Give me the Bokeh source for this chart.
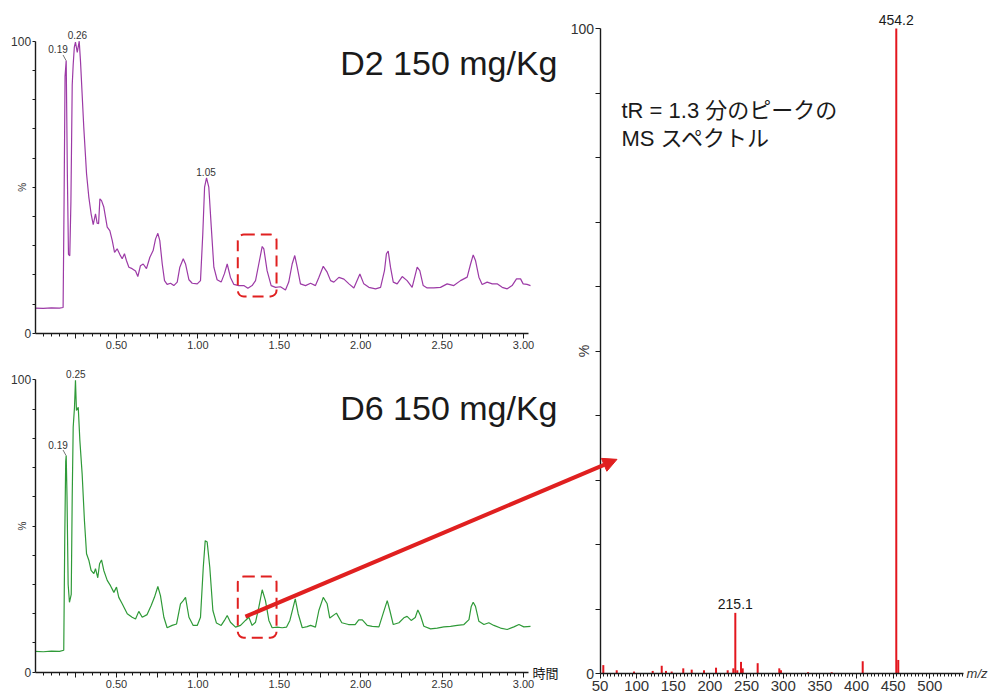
import math
from bokeh.plotting import figure
from bokeh.models import (Range1d, LinearAxis, FixedTicker, PrintfTickFormatter,
                          Label, Arrow, NormalHead, BoxAnnotation)
from bokeh.embed import file_html
from bokeh.resources import INLINE

# ---------------- data ----------------
# chromatogram D2 150 mg/Kg (time in min, relative intensity %)
d2_time = [0.000, 0.050, 0.100, 0.150, 0.172, 0.178, 0.184, 0.191, 0.198, 0.205,
           0.213, 0.220, 0.228, 0.234, 0.241, 0.248, 0.259, 0.271, 0.279, 0.299,
           0.316, 0.330, 0.344, 0.357, 0.371, 0.381, 0.390, 0.398, 0.408, 0.422,
           0.443, 0.459, 0.474, 0.488, 0.504, 0.520, 0.535, 0.549, 0.561, 0.576,
           0.596, 0.617, 0.631, 0.647, 0.664, 0.684, 0.705, 0.725, 0.740, 0.754,
           0.766, 0.781, 0.795, 0.811, 0.832, 0.852, 0.873, 0.889, 0.910, 0.924,
           0.945, 0.965, 0.996, 1.016, 1.030, 1.041, 1.053, 1.067, 1.082, 1.098,
           1.118, 1.143, 1.163, 1.180, 1.200, 1.221, 1.251, 1.282, 1.307, 1.333,
           1.354, 1.374, 1.395, 1.405, 1.425, 1.450, 1.477, 1.507, 1.538, 1.558,
           1.579, 1.595, 1.610, 1.630, 1.661, 1.692, 1.722, 1.743, 1.770, 1.794,
           1.815, 1.835, 1.866, 1.897, 1.928, 1.958, 1.995, 2.019, 2.050, 2.091,
           2.122, 2.146, 2.158, 2.169, 2.183, 2.200, 2.224, 2.255, 2.285, 2.316,
           2.347, 2.363, 2.384, 2.408, 2.449, 2.490, 2.531, 2.572, 2.613, 2.654,
           2.675, 2.691, 2.705, 2.726, 2.746, 2.777, 2.808, 2.838, 2.869, 2.900,
           2.930, 2.957, 2.982, 2.998, 3.022, 3.043]
d2_signal = [8.6, 8.5, 8.7, 8.6, 8.8, 45.0, 88.0, 93.4, 55.0, 27.0,
             26.5, 45.0, 85.0, 92.0, 98.0, 99.7, 96.2, 100.0, 93.0, 70.5,
             54.6, 46.6, 40.9, 37.2, 40.9, 37.7, 37.5, 46.0, 45.4, 43.2,
             36.3, 35.1, 31.7, 27.7, 28.9, 27.0, 25.5, 27.2, 24.9, 22.6,
             22.1, 21.3, 19.4, 23.1, 23.7, 22.1, 26.0, 28.3, 32.3, 34.2,
             31.7, 23.7, 18.0, 16.7, 17.1, 16.3, 17.5, 22.6, 25.5, 23.7,
             18.3, 17.1, 16.9, 18.0, 34.0, 50.0, 53.2, 50.0, 36.5, 22.6,
             18.3, 17.5, 20.4, 23.7, 19.1, 16.7, 16.3, 16.3, 15.4, 16.3,
             18.0, 23.7, 29.7, 28.9, 21.4, 16.3, 15.7, 15.9, 14.8, 17.5,
             23.7, 26.6, 22.6, 16.9, 16.3, 17.1, 16.3, 19.1, 22.9, 20.9,
             18.0, 17.5, 19.1, 18.5, 16.9, 15.5, 20.3, 16.9, 15.7, 15.2,
             15.7, 21.4, 27.2, 28.1, 22.6, 17.5, 16.9, 19.4, 18.0, 15.7,
             22.6, 21.4, 16.3, 15.5, 15.5, 15.7, 16.9, 16.3, 18.0, 19.2,
             23.7, 26.8, 24.9, 19.2, 16.7, 17.5, 16.9, 16.9, 15.7, 15.2,
             16.3, 18.6, 18.6, 16.9, 16.7, 16.3]

# chromatogram D6 150 mg/Kg
d6_time = [0.000, 0.050, 0.100, 0.150, 0.176, 0.182, 0.188, 0.191, 0.196, 0.203,
           0.211, 0.222, 0.228, 0.234, 0.242, 0.248, 0.254, 0.265, 0.275, 0.289,
           0.303, 0.316, 0.330, 0.344, 0.361, 0.371, 0.385, 0.396, 0.408, 0.422,
           0.443, 0.463, 0.484, 0.500, 0.514, 0.535, 0.566, 0.596, 0.617, 0.637,
           0.658, 0.688, 0.713, 0.733, 0.754, 0.770, 0.791, 0.811, 0.842, 0.869,
           0.893, 0.910, 0.924, 0.945, 0.971, 0.996, 1.016, 1.033, 1.045, 1.057,
           1.073, 1.092, 1.114, 1.143, 1.163, 1.180, 1.200, 1.231, 1.262, 1.292,
           1.313, 1.333, 1.354, 1.374, 1.395, 1.415, 1.436, 1.456, 1.487, 1.518,
           1.544, 1.565, 1.585, 1.598, 1.616, 1.641, 1.671, 1.692, 1.722, 1.743,
           1.770, 1.794, 1.810, 1.851, 1.884, 1.925, 1.966, 1.988, 2.010, 2.040,
           2.071, 2.112, 2.139, 2.163, 2.179, 2.200, 2.235, 2.265, 2.285, 2.310,
           2.335, 2.351, 2.367, 2.388, 2.429, 2.470, 2.511, 2.552, 2.593, 2.634,
           2.665, 2.679, 2.691, 2.705, 2.726, 2.757, 2.787, 2.818, 2.859, 2.900,
           2.941, 2.972, 3.002, 3.043]
d6_signal = [7.1, 7.0, 7.2, 7.1, 7.5, 45.0, 72.0, 74.1, 60.0, 30.0,
             23.9, 26.6, 60.0, 83.8, 90.6, 99.8, 89.5, 90.6, 79.2, 67.8,
             51.9, 40.5, 38.3, 34.8, 33.7, 35.4, 32.3, 37.1, 38.4, 34.8,
             31.4, 29.6, 27.3, 29.1, 25.6, 23.4, 20.0, 18.8, 18.2, 20.8,
             18.8, 19.7, 22.8, 25.6, 29.3, 26.2, 18.8, 15.2, 16.0, 16.5,
             23.4, 24.5, 25.6, 18.8, 16.0, 16.0, 18.8, 35.9, 45.0, 44.5,
             35.9, 21.1, 16.8, 16.0, 17.7, 19.4, 17.1, 15.4, 16.0, 17.7,
             18.8, 16.0, 17.1, 22.2, 28.2, 24.5, 17.7, 15.2, 15.4, 15.2,
             15.4, 17.7, 22.2, 25.1, 20.0, 15.2, 15.6, 16.0, 15.4, 21.1,
             25.6, 23.4, 18.5, 20.2, 16.9, 16.3, 16.3, 17.9, 17.9, 16.0,
             15.7, 15.5, 20.3, 24.5, 21.1, 16.3, 16.9, 18.6, 19.1, 17.7,
             18.7, 21.3, 19.4, 15.7, 14.8, 15.1, 15.5, 15.7, 16.0, 16.3,
             18.0, 22.5, 23.9, 22.5, 17.4, 16.3, 16.9, 16.0, 15.1, 14.6,
             15.5, 16.3, 15.5, 15.7]

# labelled chromatogram peaks
d2_peak_time = [0.19, 0.26, 1.05]
d2_peak_top = [93.4, 100.0, 53.2]
d6_peak_time = [0.19, 0.25]
d6_peak_top = [74.1, 100.0]

# MS spectrum of the tR = 1.3 min peak (m/z position on axis, relative abundance %)
ms_mz = [54.5, 72.8, 96.4, 121.9, 134.2, 140.0, 147.8, 163.6, 175.1, 191.9,
         208.3, 224.2, 231.9, 234.6, 237.3, 242.4, 244.7, 265.1, 294.6, 296.9,
         333.8, 366.1, 408.4, 454.2, 456.9]
ms_abund = [1.3, 0.5, 0.3, 0.4, 1.2, 0.4, 0.3, 0.8, 0.6, 0.5,
            0.9, 0.5, 0.8, 9.4, 0.5, 1.8, 0.8, 1.6, 0.8, 0.5,
            0.2, 0.2, 1.9, 100.0, 2.1]
ms_label_mz = [454.2, 234.6]
ms_label_abund = [100.0, 9.4]
ms_label_text = ["454.2", "215.1"]

# tick values
chrom_time_ticks = [i * 0.25 for i in range(1, 13)]
chrom_time_minor = [i * 0.05 for i in range(1, 61)]
pct_ticks = list(range(0, 101, 10))
mz_ticks = list(range(50, 501, 50))
mz_minor = list(range(55, 546, 5))

# ---------------- layout (pixel placement of each panel) ----------------
W, H = 990, 696
ARIAL = "Liberation Sans"
JP = "Liberation Sans, 'Noto Sans CJK JP'"

def make_range(v0, p0, v1, p1, n):
    k = (v1 - v0) / (p1 - p0)
    return Range1d(start=v0 - p0 * k, end=v0 + (n - p0) * k)

# (value, pixel) pairs; y pixels measured from the bottom of the canvas
T_MAP = (0.0, 34.6, 3.0, 34.6 + 3.0 * 162.8)
D2_MAP = (0.0, H - 332.7, 100.0, H - 40.7)
D6_MAP = (0.0, H - 671.7, 100.0, H - 379.3)
MZ_MAP = (50.0, 599.5, 500.0, 599.5 + 450 * 0.733)
MS_MAP = (0.0, H - 673.0, 100.0, H - 28.0)

def to_px(v, m):
    v0, p0, v1, p1 = m
    return p0 + (v - v0) * (p1 - p0) / (v1 - v0)

def from_px(px, m):
    v0, p0, v1, p1 = m
    return v0 + (px - p0) * (v1 - v0) / (p1 - p0)

p = figure(width=W, height=H,
           x_range=make_range(*MZ_MAP, W), y_range=make_range(*MS_MAP, H),
           x_axis_location=None, y_axis_location=None,
           toolbar_location=None, output_backend="svg", min_border=0,
           outline_line_color=None, background_fill_color="white",
           border_fill_color="white")
p.title_location = None
p.xgrid.visible = False
p.ygrid.visible = False
p.extra_x_ranges = {"t": make_range(*T_MAP, W)}
p.extra_y_ranges = {"d2": make_range(*D2_MAP, H), "d6": make_range(*D6_MAP, H)}

def style_axis(ax, size, tick_out, minor_out, standoff):
    ax.axis_line_color = "#1a1a1a"
    ax.axis_line_width = 1.4
    ax.major_tick_line_color = "#1a1a1a"
    ax.minor_tick_line_color = "#1a1a1a"
    ax.major_tick_out = tick_out
    ax.major_tick_in = 0
    ax.minor_tick_out = minor_out
    ax.minor_tick_in = 0
    ax.major_label_text_font = ARIAL
    ax.major_label_text_font_size = size
    ax.major_label_text_color = "#333333"
    ax.major_label_standoff = standoff

# ---------------- chromatograms ----------------
panels = [("d2", d2_time, d2_signal, "#9c3aa6", d2_peak_time, d2_peak_top, "D2 150 mg/Kg", 92.7, (12.6, 33.8)),
          ("d6", d6_time, d6_signal, "#2f9a38", d6_peak_time, d6_peak_top, "D6 150 mg/Kg", 90.5, (11.8, 32.7))]

for name, tt, sig, col, pk_t, pk_top, title, title_y, box_y in panels:
    xa = LinearAxis(x_range_name="t", y_range_name=name, fixed_location=0, bounds=(0, 3.03),
                    ticker=FixedTicker(ticks=chrom_time_ticks, minor_ticks=chrom_time_minor),
                    formatter=PrintfTickFormatter(format="%.2f"),
                    major_label_overrides={t: "" for t in chrom_time_ticks if abs(t * 2 - round(t * 2)) > 1e-9})
    style_axis(xa, "11px", 5, 3, 3)
    p.add_layout(xa, "below")
    ya = LinearAxis(x_range_name="t", y_range_name=name, fixed_location=0, bounds=(0, 100),
                    ticker=FixedTicker(ticks=pct_ticks, minor_ticks=[]),
                    major_label_overrides={v: "" for v in pct_ticks if v not in (0, 100)})
    style_axis(ya, "12px", 3, 0, 1)
    p.add_layout(ya, "left")

    p.line(tt, sig, x_range_name="t", y_range_name=name, line_color=col, line_width=1.2)

    p.add_layout(Label(x=0, y=50, x_range_name="t", y_range_name=name, text="%", angle=math.pi / 2,
                       x_offset=-13, text_align="center", text_baseline="middle",
                       text_font=ARIAL, text_font_size="10px", text_color="#333333"))

    for t, top in zip(pk_t, pk_top):
        if t < 0.2:
            p.add_layout(Label(x=t, y=top, x_range_name="t", y_range_name=name, text=f"{t:.2f}",
                               x_offset=-8, y_offset=11, text_align="center", text_baseline="middle",
                               text_font=ARIAL, text_font_size="10px", text_color="#333333"))
            p.segment(x0=[t - 3 / 162.8], y0=[top + 5.5 / 2.92], x1=[t], y1=[top],
                      x_range_name="t", y_range_name=name, line_color="#777777", line_width=1)
        else:
            p.add_layout(Label(x=t, y=top, x_range_name="t", y_range_name=name, text=f"{t:.2f}",
                               y_offset=2, text_align="center", text_baseline="bottom",
                               text_font=ARIAL, text_font_size="10px", text_color="#333333"))

    p.add_layout(Label(x=3.209, y=title_y, x_range_name="t", y_range_name=name, text=title,
                       text_align="right", text_baseline="middle",
                       text_font=ARIAL, text_font_size="34px", text_color="#1a1a1a"))

    p.add_layout(BoxAnnotation(left=1.245, right=1.483, bottom=box_y[0], top=box_y[1],
                               x_range_name="t", y_range_name=name,
                               fill_alpha=0, fill_color=None, line_color="#e02020", line_alpha=1.0,
                               line_width=2, line_dash="11 6", border_radius=6))

p.add_layout(Label(x=3.03, y=0, x_range_name="t", y_range_name="d6", text="時間",
                   x_offset=4, text_align="left", text_baseline="middle",
                   text_font="'Noto Sans CJK JP'", text_font_size="13px", text_color="#1a1a1a"))

# ---------------- MS spectrum ----------------
mxa = LinearAxis(fixed_location=0, bounds=(50, 546),
                 ticker=FixedTicker(ticks=mz_ticks, minor_ticks=mz_minor))
style_axis(mxa, "15px", 5, 3, 2)
p.add_layout(mxa, "below")
mya = LinearAxis(fixed_location=50, bounds=(0, 100),
                 ticker=FixedTicker(ticks=pct_ticks, minor_ticks=[]),
                 major_label_overrides={v: "" for v in pct_ticks if v not in (0, 100)})
style_axis(mya, "14px", 5, 0, 1)
p.add_layout(mya, "left")

p.segment(x0=ms_mz, y0=[0] * len(ms_mz), x1=ms_mz, y1=ms_abund,
          line_color="#e3161e", line_width=2)

for mz, ab, txt in zip(ms_label_mz, ms_label_abund, ms_label_text):
    p.add_layout(Label(x=mz, y=ab, text=txt, y_offset=4, text_align="center", text_baseline="bottom",
                       text_font=ARIAL, text_font_size="14px", text_color="#1a1a1a"))

p.add_layout(Label(x=50, y=50, text="%", angle=math.pi / 2, x_offset=-16,
                   text_align="center", text_baseline="middle",
                   text_font=ARIAL, text_font_size="14px", text_color="#333333"))
p.add_layout(Label(x=546, y=0, text="m/z", x_offset=3, text_align="left", text_baseline="middle",
                   text_font=ARIAL, text_font_style="italic", text_font_size="13px",
                   text_color="#333333"))

p.add_layout(Label(x=79.3, y=87.3, text="tR = 1.3 分のピークの", text_align="left",
                   text_baseline="middle", text_font=JP, text_font_size="22px", text_color="#1a1a1a"))
p.add_layout(Label(x=79.3, y=82.9, text="MS スペクトル", text_align="left",
                   text_baseline="middle", text_font=JP, text_font_size="22px", text_color="#1a1a1a"))

# ---------------- arrow from D6 peak (tR 1.3) to the spectrum ----------------
arrow_start_t, arrow_start_sig = 1.292, 19.0
arrow_end_mz, arrow_end_ab = 73.2, 33.2
sx = from_px(to_px(arrow_start_t, T_MAP), MZ_MAP)
sy = from_px(to_px(arrow_start_sig, D6_MAP), MS_MAP)
p.add_layout(Arrow(x_start=sx, y_start=sy, x_end=arrow_end_mz, y_end=arrow_end_ab,
                   line_color="#e02020", line_width=4,
                   end=NormalHead(size=14, fill_color="#e02020", line_color="#e02020")))

open("out.html", "w").write(file_html(p, INLINE))
